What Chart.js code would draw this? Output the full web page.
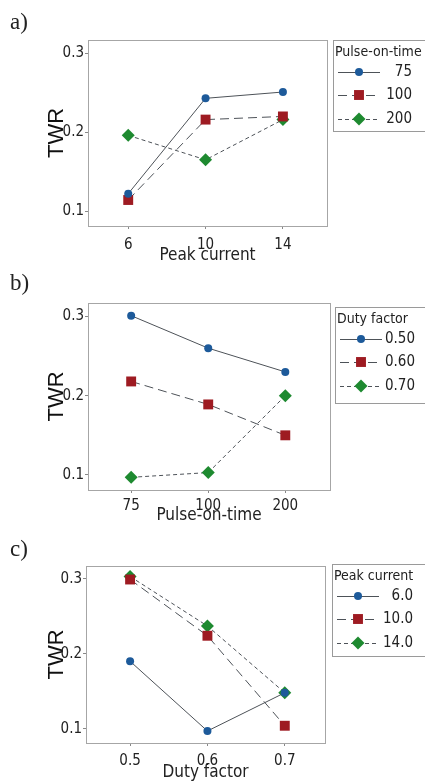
<!DOCTYPE html>
<html>
<head>
<meta charset="utf-8">
<script src="https://cdn.jsdelivr.net/npm/chart.js@4.4.0/dist/chart.umd.min.js"></script>
<style>
  body { margin: 0; background: #fff; width: 425px; height: 783px; position: relative; overflow: hidden; }
  .panel { position: absolute; left: 0; width: 425px; }
  .tag { position: absolute; left: 10px; font-family: "Liberation Serif", "DejaVu Serif", serif; font-size: 23px; color: #222; }
</style>
</head>
<body>
<div class="panel" style="top:0px"><canvas id="chartA" width="425" height="270"></canvas></div>
<div class="panel" style="top:260px"><canvas id="chartB" width="425" height="270"></canvas></div>
<div class="panel" style="top:530px"><canvas id="chartC" width="425" height="253"></canvas></div>
<div class="tag" style="top:9px">a)</div>
<div class="tag" style="top:270px">b)</div>
<div class="tag" style="top:536px">c)</div>
<script>
// data
const yTicks = [0.1, 0.2, 0.3];

// a) TWR vs peak current, one line per pulse-on-time
const peakCurrent = ['6', '10', '14'];
const pulseLegend = ['75', '100', '200'];
const twrA_75 = [0.122, 0.243, 0.251];
const twrA_100 = [0.114, 0.216, 0.220];
const twrA_200 = [0.196, 0.165, 0.216];

// b) TWR vs pulse-on-time, one line per duty factor
const pulseOnTime = ['75', '100', '200'];
const dutyLegend = ['0.50', '0.60', '0.70'];
const twrB_050 = [0.301, 0.260, 0.230];
const twrB_060 = [0.218, 0.189, 0.150];
const twrB_070 = [0.097, 0.103, 0.200];

// c) TWR vs duty factor, one line per peak current
const dutyFactor = ['0.5', '0.6', '0.7'];
const peakLegend = ['6.0', '10.0', '14.0'];
const twrC_6 = [0.190, 0.097, 0.148];
const twrC_10 = [0.299, 0.224, 0.104];
const twrC_14 = [0.303, 0.237, 0.148];

const narrow = '"Liberation Sans Narrow", "DejaVu Sans Condensed", sans-serif';
Chart.defaults.font.family = narrow;
Chart.defaults.color = '#222';

// marker / line look shared by the three panels
const looks = [
  { color: '#1d5a9a', style: 'circle', radius: 4, dash: [] },
  { color: '#9e1b22', style: 'rect', radius: 7, dash: [9, 5] },
  { color: '#1e8a30', style: 'rectRot', radius: 6.5, dash: [4, 3] }
];
const lineColor = '#4d5258';

function drawMarker(ctx, look, x, y) {
  const r = look.radius;
  ctx.beginPath();
  if (look.style === 'circle') {
    ctx.arc(x, y, r, 0, Math.PI * 2);
  } else if (look.style === 'rect') {
    const s = r * Math.SQRT1_2;
    ctx.rect(x - s, y - s, 2 * s, 2 * s);
  } else {
    ctx.moveTo(x - r, y); ctx.lineTo(x, y - r); ctx.lineTo(x + r, y); ctx.lineTo(x, y + r); ctx.closePath();
  }
  ctx.fillStyle = look.color;
  ctx.fill();
}

// frame round the plot area and the boxed legend on the right
const frameLegend = {
  id: 'frameLegend',
  beforeDatasetsDraw(chart) {
    const { ctx, chartArea: a } = chart;
    ctx.save();
    ctx.strokeStyle = '#a6a6a6';
    ctx.lineWidth = 1;
    ctx.strokeRect(Math.round(a.left) + 0.5, Math.round(a.top) + 0.5, Math.round(a.right - a.left), Math.round(a.bottom - a.top));
    ctx.restore();
  },
  afterDraw(chart, args, opts) {
    const ctx = chart.ctx;
    const L = opts.left, T = opts.top;
    ctx.save();
    ctx.strokeStyle = '#9a9a9a';
    ctx.lineWidth = 1;
    ctx.strokeRect(L + 0.5, T + 0.5, 100, opts.height);
    ctx.fillStyle = '#222';
    ctx.textBaseline = 'middle';
    ctx.font = '14px ' + narrow;
    ctx.textAlign = 'left';
    ctx.fillText(opts.title, L + 2, T + 12);
    ctx.font = '15px ' + narrow;
    ctx.textAlign = 'right';
    chart.data.datasets.forEach((ds, i) => {
      const y = T + opts.rows[i];
      const look = looks[i];
      ctx.beginPath();
      ctx.setLineDash(look.dash);
      ctx.strokeStyle = lineColor;
      ctx.moveTo(L + 5, y + 0.5);
      ctx.lineTo(L + 47, y + 0.5);
      ctx.stroke();
      ctx.setLineDash([]);
      drawMarker(ctx, look, L + 26, y);
      ctx.fillStyle = '#222';
      ctx.fillText(ds.label, opts.textRight, y);
    });
    ctx.restore();
  }
};

function makeChart(id, cats, series, names, xTitle, legendTitle, box) {
  const canvas = document.getElementById(id);
  return new Chart(canvas, {
    type: 'line',
    data: {
      datasets: series.map((vals, i) => ({
        label: names[i],
        data: vals.map((v, k) => ({ x: k, y: v })),
        borderColor: lineColor,
        borderWidth: 1,
        borderDash: looks[i].dash,
        pointStyle: looks[i].style,
        pointRadius: looks[i].radius,
        pointBackgroundColor: looks[i].color,
        pointBorderColor: looks[i].color,
        pointBorderWidth: 0,
        tension: 0
      }))
    },
    options: {
      responsive: false,
      animation: false,
      events: [],
      layout: { padding: { left: 0, top: box.top, right: 425 - box.right, bottom: 0 } },
      plugins: {
        legend: { display: false },
        tooltip: { enabled: false },
        frameLegend: { title: legendTitle, left: box.legLeft, top: box.top + box.legTop, height: box.legHeight, rows: [32, 55, 79], textRight: box.legText }
      },
      scales: {
        x: {
          type: 'linear',
          min: box.xMin,
          max: box.xMax,
          afterBuildTicks: s => { s.ticks = cats.map((c, k) => ({ value: k })); },
          afterFit: s => { s.height = canvas.height - box.bottom; },
          ticks: { callback: v => cats[v], font: { size: 15 }, padding: box.xPad, maxRotation: 0 },
          grid: { display: true, drawOnChartArea: false, drawTicks: true, tickLength: 3, color: '#888' },
          border: { display: false },
          title: { display: true, text: xTitle, font: { size: 17 }, padding: { top: 0, bottom: box.titlePad } }
        },
        y: {
          min: 0.081,
          max: 0.317,
          afterBuildTicks: s => { s.ticks = yTicks.map(v => ({ value: v })); },
          afterFit: s => { s.width = box.left; },
          ticks: { callback: v => v.toFixed(1), font: { size: 15 }, padding: 1 },
          grid: { display: true, drawOnChartArea: false, drawTicks: true, tickLength: 3, color: '#888' },
          border: { display: false },
          title: { display: true, text: 'TWR', color: '#111', font: { family: '"Liberation Sans", Arial, sans-serif', size: 22 }, padding: { top: 44, bottom: 0 } }
        }
      }
    },
    plugins: [frameLegend]
  });
}

makeChart('chartA', peakCurrent, [twrA_75, twrA_100, twrA_200], pulseLegend, 'Peak current', 'Pulse-on-time',
  { left: 88, right: 327, top: 40, bottom: 226, xMin: -0.52, xMax: 2.57, xPad: 7, titlePad: 4, legLeft: 333, legTop: 0, legHeight: 91, legText: 412 });
makeChart('chartB', pulseOnTime, [twrB_050, twrB_060, twrB_070], dutyLegend, 'Pulse-on-time', 'Duty factor',
  { left: 88, right: 330, top: 43, bottom: 230, xMin: -0.56, xMax: 2.58, xPad: 4, titlePad: 4, legLeft: 335, legTop: 4, legHeight: 96, legText: 415 });
makeChart('chartC', dutyFactor, [twrC_6, twrC_10, twrC_14], peakLegend, 'Duty factor', 'Peak current',
  { left: 86, right: 325, top: 36, bottom: 213, xMin: -0.57, xMax: 2.52, xPad: 6, titlePad: 0, legLeft: 332, legTop: -2, legHeight: 92, legText: 413 });
</script>
</body>
</html>
